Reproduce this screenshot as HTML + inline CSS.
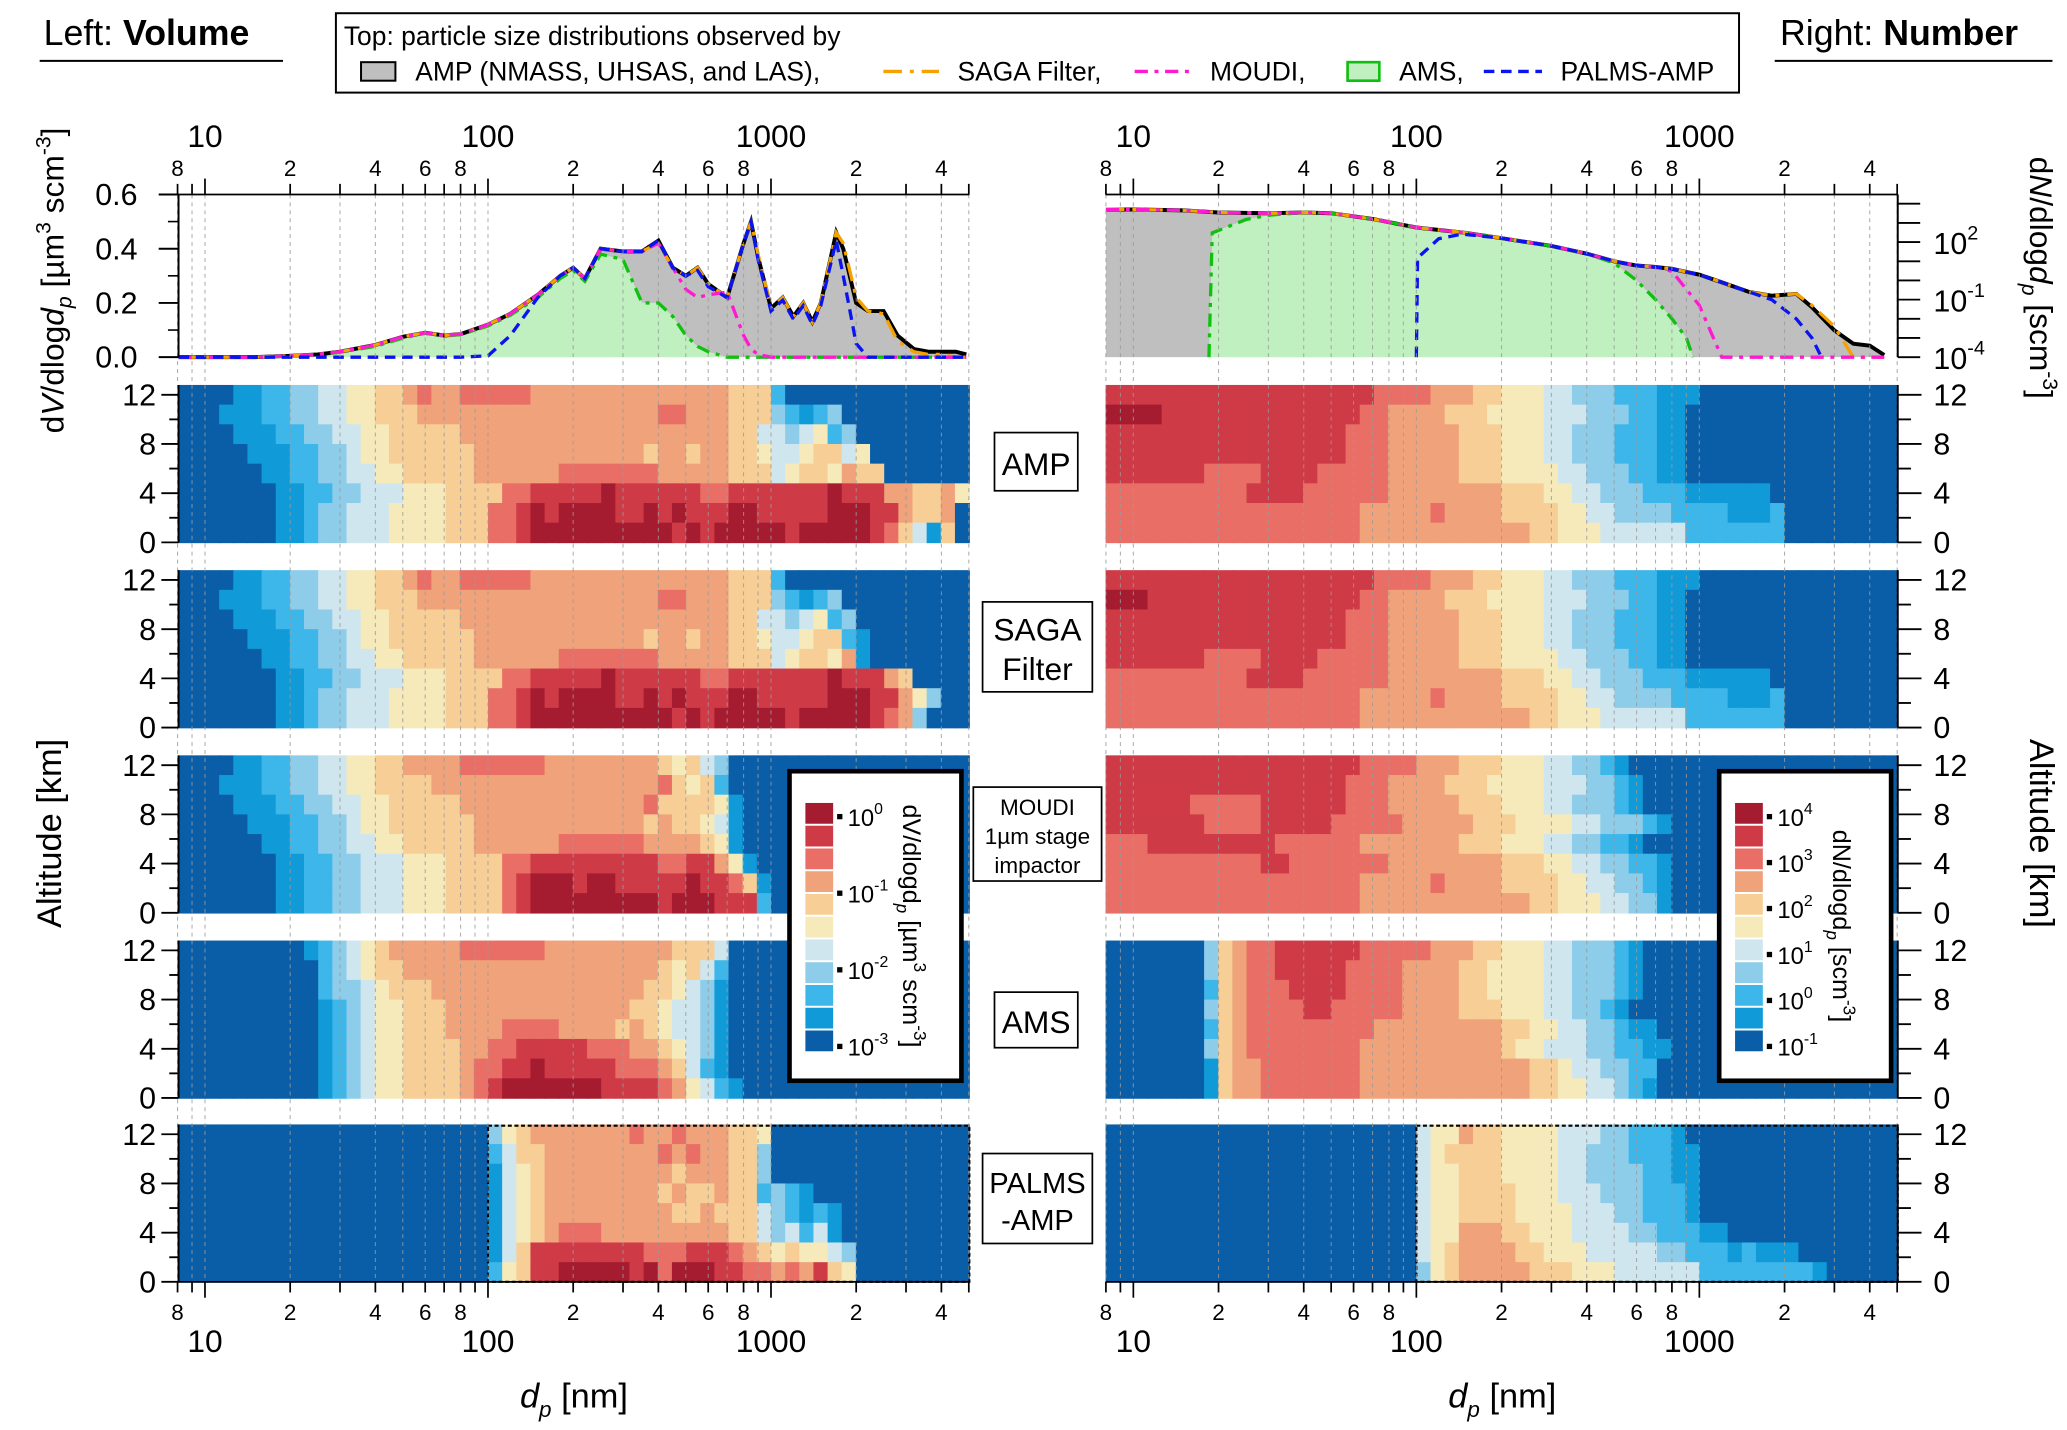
<!DOCTYPE html>
<html><head><meta charset="utf-8">
<style>
html,body{margin:0;padding:0;background:#fff;}
svg{display:block;font-family:"Liberation Sans",Arial,sans-serif;}
</style></head>
<body>
<svg id="fig" xmlns="http://www.w3.org/2000/svg" width="2067" height="1430" viewBox="0 0 1563 1081" preserveAspectRatio="none">
<rect x="0" y="0" width="1563" height="1081" fill="#fff"/>
<g id="heat"></g>
<g id="tops"></g>
<g id="grid"></g>
<g id="axes"></g>

<text x="33" y="34" font-size="27">Left: <tspan font-weight="bold">Volume</tspan></text>
<line x1="30" y1="46" x2="214" y2="46" stroke="#000" stroke-width="1.5"/>
<text x="1346" y="34" font-size="27">Right: <tspan font-weight="bold">Number</tspan></text>
<line x1="1342" y1="46" x2="1552" y2="46" stroke="#000" stroke-width="1.5"/>

<g>
<rect x="254" y="10" width="1061" height="60" fill="#fff" stroke="#000" stroke-width="1.5"/>
<text x="260" y="34" font-size="20">Top: particle size distributions observed by</text>
<rect x="273" y="47" width="26" height="14" fill="#bfbfbf" stroke="#000" stroke-width="1.5"/>
<text x="314" y="61" font-size="20">AMP (NMASS, UHSAS, and LAS),</text>
<line x1="668" y1="54" x2="710" y2="54" stroke="#f5a100" stroke-width="2.5" stroke-dasharray="14,6,3,6"/>
<text x="724" y="61" font-size="20">SAGA Filter,</text>
<line x1="858" y1="54" x2="902" y2="54" stroke="#ff1ad1" stroke-width="2.5" stroke-dasharray="10,5,3,5"/>
<text x="915" y="61" font-size="20">MOUDI,</text>
<rect x="1019" y="47" width="24" height="14" fill="#c0f0c0" stroke="#10c010" stroke-width="2"/>
<text x="1058" y="61" font-size="20">AMS,</text>
<line x1="1122" y1="54" x2="1166" y2="54" stroke="#0a14f0" stroke-width="2.5" stroke-dasharray="8,5"/>
<text x="1180" y="61" font-size="20">PALMS-AMP</text>
</g>

<g>
<rect x="752" y="327" width="63" height="44" fill="#fff" stroke="#000" stroke-width="1.3"/>
<text x="783.5" y="359" font-size="24" text-anchor="middle">AMP</text>
<rect x="743" y="455" width="83" height="68" fill="#fff" stroke="#000" stroke-width="1.3"/>
<text x="784.5" y="484" font-size="24" text-anchor="middle">SAGA</text>
<text x="784.5" y="514" font-size="24" text-anchor="middle">Filter</text>
<rect x="736" y="595" width="97" height="71" fill="#fff" stroke="#000" stroke-width="1.3"/>
<text x="784.5" y="616" font-size="17" text-anchor="middle">MOUDI</text>
<text x="784.5" y="638" font-size="17" text-anchor="middle">1µm stage</text>
<text x="784.5" y="660" font-size="17" text-anchor="middle">impactor</text>
<rect x="752" y="750" width="63" height="42" fill="#fff" stroke="#000" stroke-width="1.3"/>
<text x="783.5" y="781" font-size="24" text-anchor="middle">AMS</text>
<rect x="743" y="872" width="83" height="68" fill="#fff" stroke="#000" stroke-width="1.3"/>
<text x="784.5" y="902" font-size="22" text-anchor="middle">PALMS</text>
<text x="784.5" y="930" font-size="22" text-anchor="middle">-AMP</text>
</g>

<text transform="translate(48,212) rotate(-90)" font-size="24" text-anchor="middle">d<tspan font-style="italic">V</tspan>/dlog<tspan font-style="italic">d</tspan><tspan font-style="italic" font-size="16" dy="6">p</tspan><tspan dy="-6"> [µm</tspan><tspan font-size="16" dy="-10">3</tspan><tspan dy="10"> scm</tspan><tspan font-size="16" dy="-10">-3</tspan><tspan dy="10">]</tspan></text>
<text transform="translate(46,630) rotate(-90)" font-size="26" text-anchor="middle">Altitude [km]</text>
<text transform="translate(1535,210) rotate(90)" font-size="24" text-anchor="middle">d<tspan font-style="italic">N</tspan>/dlog<tspan font-style="italic">d</tspan><tspan font-style="italic" font-size="16" dy="6">p</tspan><tspan dy="-6"> [scm</tspan><tspan font-size="16" dy="-10">-3</tspan><tspan dy="10">]</tspan></text>
<text transform="translate(1535,630) rotate(90)" font-size="26" text-anchor="middle">Altitude [km]</text>
<text x="434" y="1064" font-size="26" text-anchor="middle"><tspan font-style="italic">d</tspan><tspan font-style="italic" font-size="17" dy="7">p</tspan><tspan dy="-7"> [nm]</tspan></text>
<text x="1136" y="1064" font-size="26" text-anchor="middle"><tspan font-style="italic">d</tspan><tspan font-style="italic" font-size="17" dy="7">p</tspan><tspan dy="-7"> [nm]</tspan></text>

<g id="cbars"></g>
</svg>

<script>
const levelColors = ["#0a5ea8","#109bd8","#3db6ea","#8ecdea","#cfe6ef","#f6eabb","#f7cf96","#f0a37b","#e96e66","#cf3a47","#a51c30"];
const binStartLog = 0.9, binStepLog = 0.05, nBins = 56;
const altMax = 12.8;

const volAMP = [
"0000112233445566"+"78778888877777777777777"+"666"+"2"+"0000000000000",
"00011122334455666"+"7777777777777777788777"+"666"+"32123"+"000000000",
"00001112233445566666"+"7777777777777777777"+"66"+"4434523"+"00000000",
"000001112233455666666"+"777777777777677677"+"66"+"54456645"+"0000000",
"000000112233445566666"+"777777888888877777"+"666"+"45665766"+"000000",
"00000001122334445556666"+"8899999a999999889999999a999"+"776675",
"0000000112334445555666"+"889a9aaaa99a9a999aa99999aaa9"+"976670",
"0000000112334445555666"+"889aaaaaaaaaa9a9aaaaa9aaaaa9"+"864160"];
const volSAGA = [
"0000112233445566"+"78778888877777777777777"+"666"+"2"+"0000000000000",
"00011122334455666"+"7777777777777777788777"+"666"+"32123"+"000000000",
"00001112233445566666"+"7777777777777777777"+"66"+"4434523"+"00000000",
"000001112233455666666"+"777777777777677677"+"66"+"54456621"+"0000000",
"000000112233445566666"+"777777888888877777"+"666"+"45665710"+"000000",
"00000001122334445556666"+"8899999a999999889999999a999"+"760000",
"0000000112334445555666"+"889a9aaaa99a9a999aa99999aaa9"+"975300",
"0000000112334445555666"+"889aaaaaaaaaa9a9aaaaa9aaaaa9"+"873000"];
const volMOUDI = [
"0000112233445566"+"777788888877777777"+"6564"+"3"+"00000000000000000",
"000111223344556666"+"7777777777777777"+"8"+"656"+"2"+"00000000000000000",
"00001112233445566666"+"7777777777777"+"8"+"666"+"65"+"1"+"0000000000000000",
"000001112233455666666"+"777777777777"+"6766"+"54"+"1"+"0000000000000000",
"000000112233445566666"+"777777"+"888888"+"7777"+"6"+"5"+"1"+"0000000000000000",
"00000001122334445556666"+"889999999998899"+"7"+"51"+"000000000000000",
"00000001122334445556666"+"89aaa9aa99999a998"+"61"+"00000000000000",
"00000001122334445556666"+"89aaaaaaaaa9aaa999"+"2"+"00000000000000"];
const volAMS = [
"000000000123456"+"77777888888777777777"+"666"+"4"+"00000000000000000",
"0000000000234566"+"777777777777777777"+"656"+"4"+"2"+"00000000000000000",
"000000000023345666"+"777777777777777"+"6"+"65"+"4"+"3"+"1"+"00000000000000000",
"0000000000123455666"+"7777777777777"+"66"+"5"+"44"+"3"+"1"+"00000000000000000",
"0000000000123455666"+"777788887777676"+"54431"+"00000000000000000",
"0000000000123455"+"6666"+"77"+"8899999888"+"77"+"65"+"43"+"1"+"00000000000000000",
"00000000001234556666"+"7"+"8899a9999988"+"87"+"64"+"21"+"00000000000000000",
"00000000001234556666"+"7"+"89aaaaaaa999"+"98"+"75"+"42"+"1"+"0000000000000000"];
const volPALMS = [
"00000000000"+"00000000000"+"3567"+"7777778778777"+"66"+"5"+"00000000000000",
"00000000000"+"00000000000"+"2466"+"7777777787877"+"66"+"3"+"00000000000000",
"00000000000"+"00000000000"+"1456"+"7777777776777"+"66"+"3"+"00000000000000",
"00000000000"+"00000000000"+"1456"+"7777777767667"+"66"+"2321"+"00000000000",
"00000000000"+"00000000000"+"1456"+"7777777776676"+"66"+"432121"+"000000000",
"00000000000"+"00000000000"+"1456"+"7888777777777"+"66"+"434241"+"000000000",
"00000000000"+"00000000000"+"1469"+"9999999888999"+"87"+"6565543"+"00000000",
"00000000000"+"00000000000"+"2569"+"9aaaaa9a8aaa9"+"98"+"8787965"+"00000000"];

const numAMP = [
"9999999999999999999"+"8888"+"777"+"66"+"555"+"44"+"333"+"222"+"11"+"1"+"00000000000000",
"aaaa"+"99999999999999"+"88"+"7777"+"666"+"5555"+"444"+"333"+"22"+"11"+"000000000000000",
"99999999999999999"+"888"+"77777"+"666"+"555"+"44"+"333"+"222"+"11"+"000000000000000",
"99999999999999999"+"888"+"77777"+"666"+"555"+"44"+"333"+"222"+"11"+"000000000000000",
"9999999"+"8888"+"9999"+"88888"+"77777"+"666"+"5555"+"44"+"333"+"22"+"11"+"000000000000000",
"8888888888"+"9999"+"888888"+"77777777"+"666"+"55"+"44"+"333"+"222"+"111111"+"000000000",
"888888888888888888"+"7777787777"+"66"+"66"+"55"+"44"+"3333"+"2222"+"111"+"2"+"00000000",
"888888888888888888"+"777777777777"+"66"+"555"+"444444"+"2222222"+"00000000"];
const numSAGA = [
"9999999999999999999"+"8888"+"777"+"66"+"555"+"44"+"333"+"222"+"11"+"1"+"00000000000000",
"aaa9"+"99999999999999"+"88"+"7777"+"666"+"5555"+"444"+"333"+"22"+"11"+"000000000000000",
"99999999999999999"+"888"+"77777"+"666"+"555"+"44"+"333"+"222"+"11"+"000000000000000",
"99999999999999999"+"888"+"77777"+"666"+"555"+"44"+"333"+"222"+"11"+"000000000000000",
"9999999"+"8888"+"9999"+"88888"+"77777"+"666"+"5555"+"44"+"333"+"22"+"11"+"000000000000000",
"8888888888"+"9999"+"888888"+"77777777"+"666"+"55"+"44"+"333"+"222"+"111111"+"000000000",
"888888888888888888"+"7777787777"+"66"+"66"+"55"+"44"+"3333"+"2222"+"111"+"2"+"00000000",
"888888888888888888"+"777777777777"+"66"+"555"+"444444"+"2222222"+"00000000"];
const numMOUDI = [
"999999999999999999"+"8888"+"777"+"666"+"555"+"44"+"33"+"21"+"0000000000000000000",
"99999999999999999"+"888"+"7777"+"666"+"5555"+"444"+"33"+"21"+"000000000000000000",
"999999"+"88888"+"999999"+"888"+"77777"+"666"+"555"+"44"+"333"+"21"+"000000000000000000",
"9999999"+"8888"+"99999"+"88888"+"77777"+"666"+"5555"+"44"+"333"+"21"+"0000000000000000",
"888"+"999999999"+"888888"+"7777777"+"666"+"555"+"44"+"33"+"22"+"1"+"000000000000000000",
"88888888888"+"99"+"8888888"+"77777777"+"666"+"55"+"44"+"33"+"22"+"1"+"0000000000000000",
"888888888888888888"+"7777787777"+"6666"+"55"+"44"+"33"+"2"+"1"+"0000000000000000",
"888888888888888888"+"777777777777"+"66"+"555"+"44"+"33"+"1"+"0000000000000000"];
const numAMS = [
"0000000"+"3"+"67"+"88"+"999999"+"888"+"88"+"777"+"66"+"555"+"44"+"333"+"21"+"000000000000000000",
"0000000"+"3"+"678"+"8"+"99999"+"8888"+"7777"+"66"+"5555"+"44"+"333"+"21"+"000000000000000000",
"0000000"+"2"+"678"+"88"+"9999"+"8888"+"7777"+"66"+"5555"+"44"+"333"+"21"+"000000000000000000",
"0000000"+"3"+"678"+"888"+"99"+"88888"+"7777"+"666"+"555"+"44"+"33"+"21"+"0000000000000000000",
"0000000"+"2"+"67"+"888888888"+"777777777"+"66"+"55"+"44"+"33"+"2"+"1"+"1"+"00000000000000000",
"0000000"+"3"+"67"+"88888888"+"7777777777"+"6"+"55"+"444"+"33"+"22"+"1"+"1"+"0000000000000000",
"0000000"+"1"+"6"+"77"+"8888888"+"777777777777"+"66"+"5"+"44"+"33"+"22"+"00000000000000000",
"0000000"+"1"+"6"+"77"+"8888888"+"777777777777"+"66"+"5"+"54"+"43"+"2"+"1"+"00000000000000000"];
const numPALMS = [
"00000000000"+"00000000000"+"45576655554443322210"+"00000000000000",
"00000000000"+"00000000000"+"45666655554433322211"+"00000000000000",
"00000000000"+"00000000000"+"45566655554433332211"+"00000000000000",
"00000000000"+"00000000000"+"45566665554443332221"+"00000000000000",
"00000000000"+"00000000000"+"45566665555444332221"+"00000000000000",
"00000000000"+"00000000000"+"4557776655544443322211"+"000000000000",
"00000000000"+"00000000000"+"4567777665554444433222"+"12111"+"0000000",
"00000000000"+"00000000000"+"3567777766655544444422"+"2222221"+"00000"];

const volD = [8,10,15,20,25,30,40,50,60,70,80,100,120,150,180,200,220,250,300,350,400,450,500,550,600,700,800,850,900,1000,1100,1200,1300,1400,1500,1700,1800,2000,2200,2500,2800,3200,3600,4000,4500,4900];
const volAMPv = [0,0,0,0.005,0.01,0.02,0.045,0.075,0.09,0.08,0.085,0.12,0.16,0.23,0.3,0.33,0.29,0.4,0.39,0.39,0.43,0.33,0.3,0.33,0.27,0.22,0.42,0.5,0.37,0.18,0.22,0.15,0.2,0.13,0.2,0.46,0.4,0.2,0.17,0.17,0.08,0.03,0.02,0.02,0.02,0.01];
const volSAGAv = [0,0,0,0.005,0.01,0.02,0.045,0.075,0.09,0.08,0.085,0.12,0.16,0.23,0.3,0.33,0.29,0.4,0.39,0.39,0.42,0.33,0.3,0.33,0.27,0.22,0.42,0.5,0.38,0.18,0.22,0.15,0.2,0.13,0.2,0.46,0.42,0.22,0.17,0.16,0.06,0.02,0.01,0.01,0,0];
const volMOUDIv = [0,0,0,0.005,0.01,0.02,0.045,0.075,0.09,0.08,0.085,0.12,0.16,0.23,0.3,0.33,0.29,0.4,0.39,0.39,0.42,0.33,0.25,0.22,0.23,0.24,0.08,0.03,0.01,0,0,0,0,0,0,0,0,0,0,0,0,0,0,0,0,0];
const volAMSv = [0,0,0,0.004,0.009,0.018,0.04,0.07,0.088,0.078,0.083,0.115,0.155,0.22,0.29,0.32,0.28,0.38,0.36,0.2,0.2,0.15,0.08,0.04,0.02,0,0,0,0,0,0,0,0,0,0,0,0,0,0,0,0,0,0,0,0,0];
const volPALMSv = [0,0,0,0,0,0,0,0,0,0,0,0.005,0.08,0.22,0.3,0.33,0.29,0.4,0.39,0.39,0.43,0.33,0.3,0.32,0.26,0.22,0.42,0.5,0.36,0.17,0.21,0.14,0.19,0.12,0.19,0.43,0.3,0.05,0,0,0,0,0,0,0,0];
const volTicks = [0.0,0.2,0.4,0.6];
const volTickLabels = ["0.0","0.2","0.4","0.6"];

const numD = [8,10,15,20,30,40,50,70,100,150,200,300,400,500,600,700,800,1000,1200,1500,1800,2200,2500,3000,3500,4000,4500];
const numAMPv = [5000,5000,4500,3500,3200,3500,3200,1600,575,300,160,63,25,10,6,5,4,2,0.8,0.25,0.16,0.2,0.04,0.0025,0.0005,0.0004,0.00013];
const numSAGAv = [5200,5000,4500,3500,3200,3500,3200,1600,575,300,160,63,25,10,6,5,4,2,0.8,0.25,0.16,0.2,0.05,0.004,0.00005,0.00001,0.00001];
const numMOUDIv = [5000,5000,4500,3500,3200,3500,3200,1600,575,300,160,63,25,10,6,5,3,0.05,0.00005,0.00001,0.00001,0.00001,0.00001,0.00001,0.00001,0.00001,0.00001];
const numAMSd = [18.5,19,25,30,40,50,70,100,150,200,300,400,500,600,700,800,900,950];
const numAMSv = [0.00005,300,1500,2500,3500,3200,1600,575,300,160,63,25,8,1,0.1,0.01,0.001,0.00005];
const numPALMSd = [100,101,120,145,200,300,400,500,600,700,800,1000,1200,1500,1800,2200,2500,2700];
const numPALMSv = [0.00005,15,150,260,160,63,25,10,6,5,4,2,0.8,0.25,0.1,0.01,0.001,0.00005];
const numTickExps = [2,-1,-4];

const altTicks = [0,4,8,12];
const volCbarLabels = ["0","-1","-2","-3"];
const numCbarLabels = ["4","3","2","1","0","-1"];

const NS = "http://www.w3.org/2000/svg";
const panelL = {x0:135, x1:733, x10:155};
const panelR = {x0:836, x1:1435, x10:857};
const DEC = 214;
const rowTops = [291,431,571,711,850];
const rowH = 119;
const topY0 = 270, topY1 = 147;
function xOf(p, d){ return p.x10 + DEC*(Math.log10(d)-1); }
function yAlt(r, a){ return rowTops[r] + rowH*(1 - a/altMax); }
function yVol(v){ return topY0 - 205*v; }
function yNum(n){ const y = 183 - 14.5*(Math.log10(Math.max(n,1e-6))-2); return Math.min(topY0, Math.max(topY1, y)); }

function mk(tag, attrs, parent){
  const el = document.createElementNS(NS, tag);
  for (const k in attrs) el.setAttribute(k, attrs[k]);
  if (parent) parent.appendChild(el);
  return el;
}
const heat = document.getElementById("heat");
const tops = document.getElementById("tops");
const grid = document.getElementById("grid");
const axes = document.getElementById("axes");
const cbars = document.getElementById("cbars");

function drawHeat(p, r, rows, name){
  const g = mk("g", {}, heat);
  
  
  const nr = rows.length, dA = altMax/nr;
  for (let i=0;i<nr;i++){
    const s = rows[i];
    const aTop = altMax - i*dA, aBot = altMax - (i+1)*dA;
    const y0 = yAlt(r, aTop), y1 = yAlt(r, aBot);
    for (let c=0;c<nBins;c++){
      const ch = c < s.length ? s[c] : "0";
      const lvl = parseInt(ch, 16);
      const xa = xOf(p, Math.pow(10, binStartLog + c*binStepLog));
      const xb = xOf(p, Math.pow(10, binStartLog + (c+1)*binStepLog));
      const rc = mk("rect", {x:Math.max(p.x0,xa).toFixed(2), y:y0.toFixed(2), width:(Math.min(p.x1,xb)-Math.max(p.x0,xa)+0.6).toFixed(2), height:(y1-y0+0.6).toFixed(2), fill:levelColors[lvl]}, g);
      
      
    }
  }
}
const leftSets = [volAMP, volSAGA, volMOUDI, volAMS, volPALMS];
const rightSets = [numAMP, numSAGA, numMOUDI, numAMS, numPALMS];
const setNames = ["amp","saga","moudi","ams","palms"];
for (let r=0;r<5;r++){
  drawHeat(panelL, r, leftSets[r], "volume-heatmap-"+setNames[r]);
  drawHeat(panelR, r, rightSets[r], "number-heatmap-"+setNames[r]);
}
[panelL, panelR].forEach(p=>{
  const bx = mk("rect", {x:xOf(p,100), y:rowTops[4]+1, width:p.x1-xOf(p,100), height:rowH-1, fill:"none", stroke:"#000", "stroke-width":1.6, "stroke-dasharray":"3,2"}, heat);
  
  
});

function pathFrom(p, ds, vs, yf){
  let s = "";
  for (let i=0;i<ds.length;i++){
    const x = Math.max(p.x0, Math.min(p.x1, xOf(p, ds[i])));
    s += (i?"L":"M") + x.toFixed(2) + "," + yf(vs[i]).toFixed(2);
  }
  return s;
}
function fillFrom(p, ds, vs, yf){
  const first = Math.max(p.x0, xOf(p, ds[0])), last = Math.min(p.x1, xOf(p, ds[ds.length-1]));
  return pathFrom(p, ds, vs, yf) + "L" + last.toFixed(2) + "," + topY0 + "L" + first.toFixed(2) + "," + topY0 + "Z";
}
function drawTop(p, yf, d, amp, saga, moudi, amsD, ams, palmsD, palms, pre){
  let e;
  e = mk("path", {d:fillFrom(p, d, amp, yf), fill:"#bfbfbf"}, tops);
  
  
  e = mk("path", {d:fillFrom(p, amsD, ams, yf), fill:"#c0f0c0"}, tops);
  
  
  e = mk("path", {d:pathFrom(p, d, amp, yf), fill:"none", stroke:"#000", "stroke-width":3}, tops);
  
  
  e = mk("path", {d:pathFrom(p, amsD, ams, yf), fill:"none", stroke:"#10c010", "stroke-width":2.5, "stroke-dasharray":"10,5,3,5"}, tops);
  
  
  e = mk("path", {d:pathFrom(p, d, saga, yf), fill:"none", stroke:"#f5a100", "stroke-width":2.5, "stroke-dasharray":"14,6,3,6"}, tops);
  
  
  e = mk("path", {d:pathFrom(p, d, moudi, yf), fill:"none", stroke:"#ff1ad1", "stroke-width":2.5, "stroke-dasharray":"10,5,3,5"}, tops);
  
  
  e = mk("path", {d:pathFrom(p, palmsD, palms, yf), fill:"none", stroke:"#0a14f0", "stroke-width":2.5, "stroke-dasharray":"8,5"}, tops);
  
  
}
drawTop(panelL, yVol, volD, volAMPv, volSAGAv, volMOUDIv, volD, volAMSv, volD, volPALMSv, "volume");
drawTop(panelR, yNum, numD, numAMPv, numSAGAv, numMOUDIv, numAMSd, numAMSv, numPALMSd, numPALMSv, "number");

function txt(parent, x, y, s, size, anchor){
  const t = mk("text", {x:x, y:y, "font-size":size, "text-anchor":anchor||"middle"}, parent);
  t.textContent = s;
  return t;
}
[panelL, panelR].forEach((p, pi)=>{
  const side = pi ? "right" : "left";
  for (let dec=1; dec<=1000; dec*=10){
    for (let m=1;m<10;m++){
      const d = dec*m;
      if (d < 8 || d > 5000) continue;
      const x = xOf(p, d);
      if (x < p.x0-2 || x > p.x1+1) continue;
      const gl = mk("line", {x1:x, y1:147, x2:x, y2:969, stroke:"#9a9a9a", "stroke-width":0.8, "stroke-dasharray":"3,3", opacity:0.8}, grid);
      
      
      const major = (m===1);
      const tl = major ? 12 : 8;
      const t1 = mk("line", {x1:x, y1:147, x2:x, y2:147-tl, stroke:"#000", "stroke-width":1.3}, axes);
      
      
      const t2 = mk("line", {x1:x, y1:969, x2:x, y2:969+tl, stroke:"#000", "stroke-width":1.3}, axes);
      
      
      if (major){
        const a = txt(axes, x, 111, String(d), 24);
        
        
        const b = txt(axes, x, 1022, String(d), 24);
        
        
      } else if (m%2===0){
        const a = txt(axes, x, 133, String(m), 17);
        
        
        const b = txt(axes, x, 998, String(m), 17);
        
        
      }
    }
  }
  const ax = mk("line", {x1:p.x0, y1:969, x2:p.x1, y2:969, stroke:"#000", "stroke-width":1.3}, axes);
  
  
  const axt = mk("line", {x1:p.x0, y1:147, x2:p.x1, y2:147, stroke:"#000", "stroke-width":1.3}, axes);
  
  
});

{
  const ln = mk("line", {x1:135, y1:147, x2:135, y2:270, stroke:"#000", "stroke-width":1.5}, axes);
  
  
  for (let i=0;i<volTicks.length;i++){
    const y = yVol(volTicks[i]);
    const t = mk("line", {x1:120, y1:y, x2:135, y2:y, stroke:"#000", "stroke-width":1.5}, axes);
    
    
    const l = txt(axes, 104, y+8, volTickLabels[i], 23, "end");
    
    
  }
  for (let v=0.1; v<0.6; v+=0.2){
    const t = mk("line", {x1:127, y1:yVol(v), x2:135, y2:yVol(v), stroke:"#000", "stroke-width":1.2}, axes);
    
    
  }
}
{
  const ln = mk("line", {x1:1435, y1:147, x2:1435, y2:270, stroke:"#000", "stroke-width":1.5}, axes);
  
  
  for (let e=-4; e<=4; e++){
    const y = yNum(Math.pow(10,e));
    const t = mk("line", {x1:1435, y1:y, x2:1452, y2:y, stroke:"#000", "stroke-width":1.4}, axes);
    
    
  }
  numTickExps.forEach(e=>{
    const y = yNum(Math.pow(10,e));
    const t = mk("text", {x:1462, y:y+9, "font-size":23}, axes);
    
    
    t.textContent = "10";
    const s = mk("tspan", {"font-size":15, dy:-11}, t);
    s.textContent = String(e);
  });
}
for (let r=0;r<5;r++){
  [["left",135,-1],["right",1435,1]].forEach(([side,x,dir])=>{
    const ln = mk("line", {x1:x, y1:rowTops[r], x2:x, y2:rowTops[r]+rowH, stroke:"#000", "stroke-width":1.5}, axes);
    
    
    for (let a=0;a<=12;a+=2){
      const y = yAlt(r,a);
      const major = (a%4===0);
      const len = side==="left" ? (major?13:7) : (major?18:10);
      const t = mk("line", {x1:x, y1:y, x2:x+dir*len, y2:y, stroke:"#000", "stroke-width":1.4}, axes);
      
      
    }
    altTicks.forEach(a=>{
      const y = yAlt(r,a);
      const l = txt(axes, side==="left"?118:1462, y+8, String(a), 23, side==="left"?"end":"start");
      
      
    });
  });
}

function drawCbar(bx, labels, name, titleParts){
  const g = mk("g", {}, cbars);
  
  
  const box = mk("rect", {x:bx, y:583, width:130, height:234, fill:"#fff", stroke:"#000", "stroke-width":3.5}, g);
  
  
  const top = 607, sh = 17.2;
  for (let i=0;i<11;i++){
    const sw = mk("rect", {x:bx+12, y:top+i*sh, width:21, height:sh-1.5, fill:levelColors[10-i]}, g);
    
    
  }
  const n = labels.length;
  const yA = top+0.6*sh, yB = top+10.7*sh;
  for (let i=0;i<n;i++){
    const y = yA + (yB-yA)*i/(n-1);
    const tk = mk("rect", {x:bx+36, y:y-2, width:4, height:4, fill:"#000"}, g);
    
    
    const t = mk("text", {x:bx+44, y:y+7, "font-size":18}, g);
    
    
    t.textContent = "10";
    const s = mk("tspan", {"font-size":12, dy:-9}, t);
    s.textContent = labels[i];
  }
  const tt = mk("text", {transform:"translate("+(bx+86)+",700) rotate(90)", "font-size":19, "text-anchor":"middle"}, g);
  
  
  titleParts.forEach(([s, attrs])=>{ const sp = mk("tspan", attrs, tt); sp.textContent = s; });
}
drawCbar(597, volCbarLabels, "volume-colorbar", [["dV/dlogd",{}],["p",{"font-size":13,dy:5,"font-style":"italic"}],[" [µm",{dy:-5}],["3",{"font-size":13,dy:-8}],[" scm",{dy:8}],["-3",{"font-size":13,dy:-8}],["]",{dy:8}]]);
drawCbar(1300, numCbarLabels, "number-colorbar", [["dN/dlogd",{}],["p",{"font-size":13,dy:5,"font-style":"italic"}],[" [scm",{dy:-5}],["-3",{"font-size":13,dy:-8}],["]",{dy:8}]]);
</script>
</body></html>
